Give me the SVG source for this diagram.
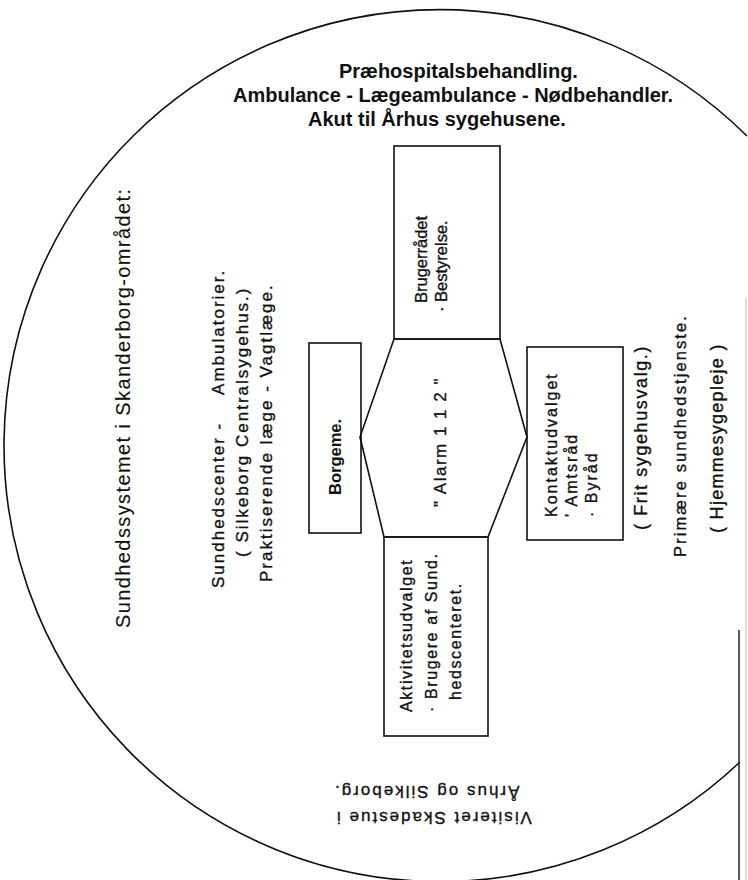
<svg xmlns="http://www.w3.org/2000/svg" width="748" height="880" viewBox="0 0 748 880">
<style>
text { font-family: "Liberation Sans", Arial, sans-serif; fill: #111; stroke: #111; stroke-width: 0.35px; }
.top { font-size: 20px; font-weight: bold; stroke-width: 0; }
.shape { fill: none; stroke: #111; stroke-width: 1.6; }
.box { font-size: 16px; letter-spacing: 1.6px; }
.mid { font-size: 17px; letter-spacing: 2px; }
.b { font-weight: bold; stroke-width: 0; }
</style>
<rect width="748" height="880" fill="#fff"/>
<g id="boundary">
<path class="shape" d="M 747 136 A 436 436 0 1 0 740 762"/>
<line x1="739" y1="630" x2="739" y2="880" stroke="#222" stroke-width="1.5"/>
<line x1="746" y1="298" x2="746" y2="880" stroke="#bbb" stroke-width="1"/>
</g>
<g id="title">
<text class="top" x="339" y="78">Præhospitalsbehandling.</text>
<text class="top" x="233" y="102">Ambulance - Lægeambulance - Nødbehandler.</text>
<text class="top" x="308" y="126">Akut til Århus sygehusene.</text>
</g>
<g id="left-label">
<text transform="translate(130,628) rotate(-90)" style="font-size:20px;letter-spacing:1.4px;stroke-width:0.1px">Sundhedssystemet i Skanderborg-området:</text>
</g>
<g id="sundhedscenter">
<text class="mid" transform="translate(224,588) rotate(-90)">Sundhedscenter -&#160;&#160;&#160;&#160;Ambulatorier.</text>
<text class="mid" transform="translate(248,557) rotate(-90)">( Silkeborg Centralsygehus.)</text>
<text class="mid" transform="translate(272,582) rotate(-90)">Praktiserende læge - Vagtlæge.</text>
</g>
<g id="primaer">
<text transform="translate(647,530) rotate(-90)" style="font-size:18px;letter-spacing:1.6px">( Frit sygehusvalg.)</text>
<text transform="translate(686,557) rotate(-90)" style="font-size:16.5px;letter-spacing:2.1px">Primære sundhedstjenste.</text>
<text transform="translate(723,533) rotate(-90)" style="font-size:18px;letter-spacing:1.3px">( Hjemmesygepleje )</text>
</g>
<g id="skadestue">
<text transform="translate(335,812) rotate(180)" text-anchor="end" style="font-size:17px;letter-spacing:2px">Visiteret Skadestue i</text>
<text transform="translate(333,786) rotate(180)" text-anchor="end" style="font-size:17px;letter-spacing:2px">Århus og Silkeborg.</text>
</g>
<g id="brugerraadet">
<rect class="shape" x="394" y="146" width="106" height="193"/>
<text transform="translate(427,303) rotate(-90)" style="font-size:16.5px">Brugerrådet</text>
<text transform="translate(447,312) rotate(-90)" style="font-size:16.5px">· Bestyrelse.</text>
</g>
<g id="alarm">
<polygon class="shape" points="394,339 500,339 527,437 488,537 384,537 360,437"/>
<text transform="translate(446,507) rotate(-90)" style="font-size:17px;letter-spacing:1.5px">" Alarm 1 1 2 "</text>
</g>
<g id="borgerne">
<rect class="shape" x="309" y="343" width="52" height="190"/>
<text class="b" transform="translate(341,495) rotate(-90)" style="font-size:16.5px">Borgeme.</text>
</g>
<g id="kontaktudvalget">
<rect class="shape" x="527" y="347" width="96" height="193"/>
<text class="box" transform="translate(557,517) rotate(-90)" style="letter-spacing:2px">Kontaktudvalget</text>
<text class="box" transform="translate(577,517) rotate(-90)" style="letter-spacing:2px">' Amtsråd</text>
<text class="box" transform="translate(597,517) rotate(-90)" style="letter-spacing:2px">· Byråd</text>
</g>
<g id="aktivitetsudvalget">
<rect class="shape" x="384" y="537" width="104" height="199"/>
<text class="box" transform="translate(412,712) rotate(-90)">Aktivitetsudvalget</text>
<text class="box" transform="translate(437,712) rotate(-90)">· Brugere af Sund.</text>
<text class="box" transform="translate(461,700) rotate(-90)">hedscenteret.</text>
</g>
<g id="connectors"></g>
</svg>
